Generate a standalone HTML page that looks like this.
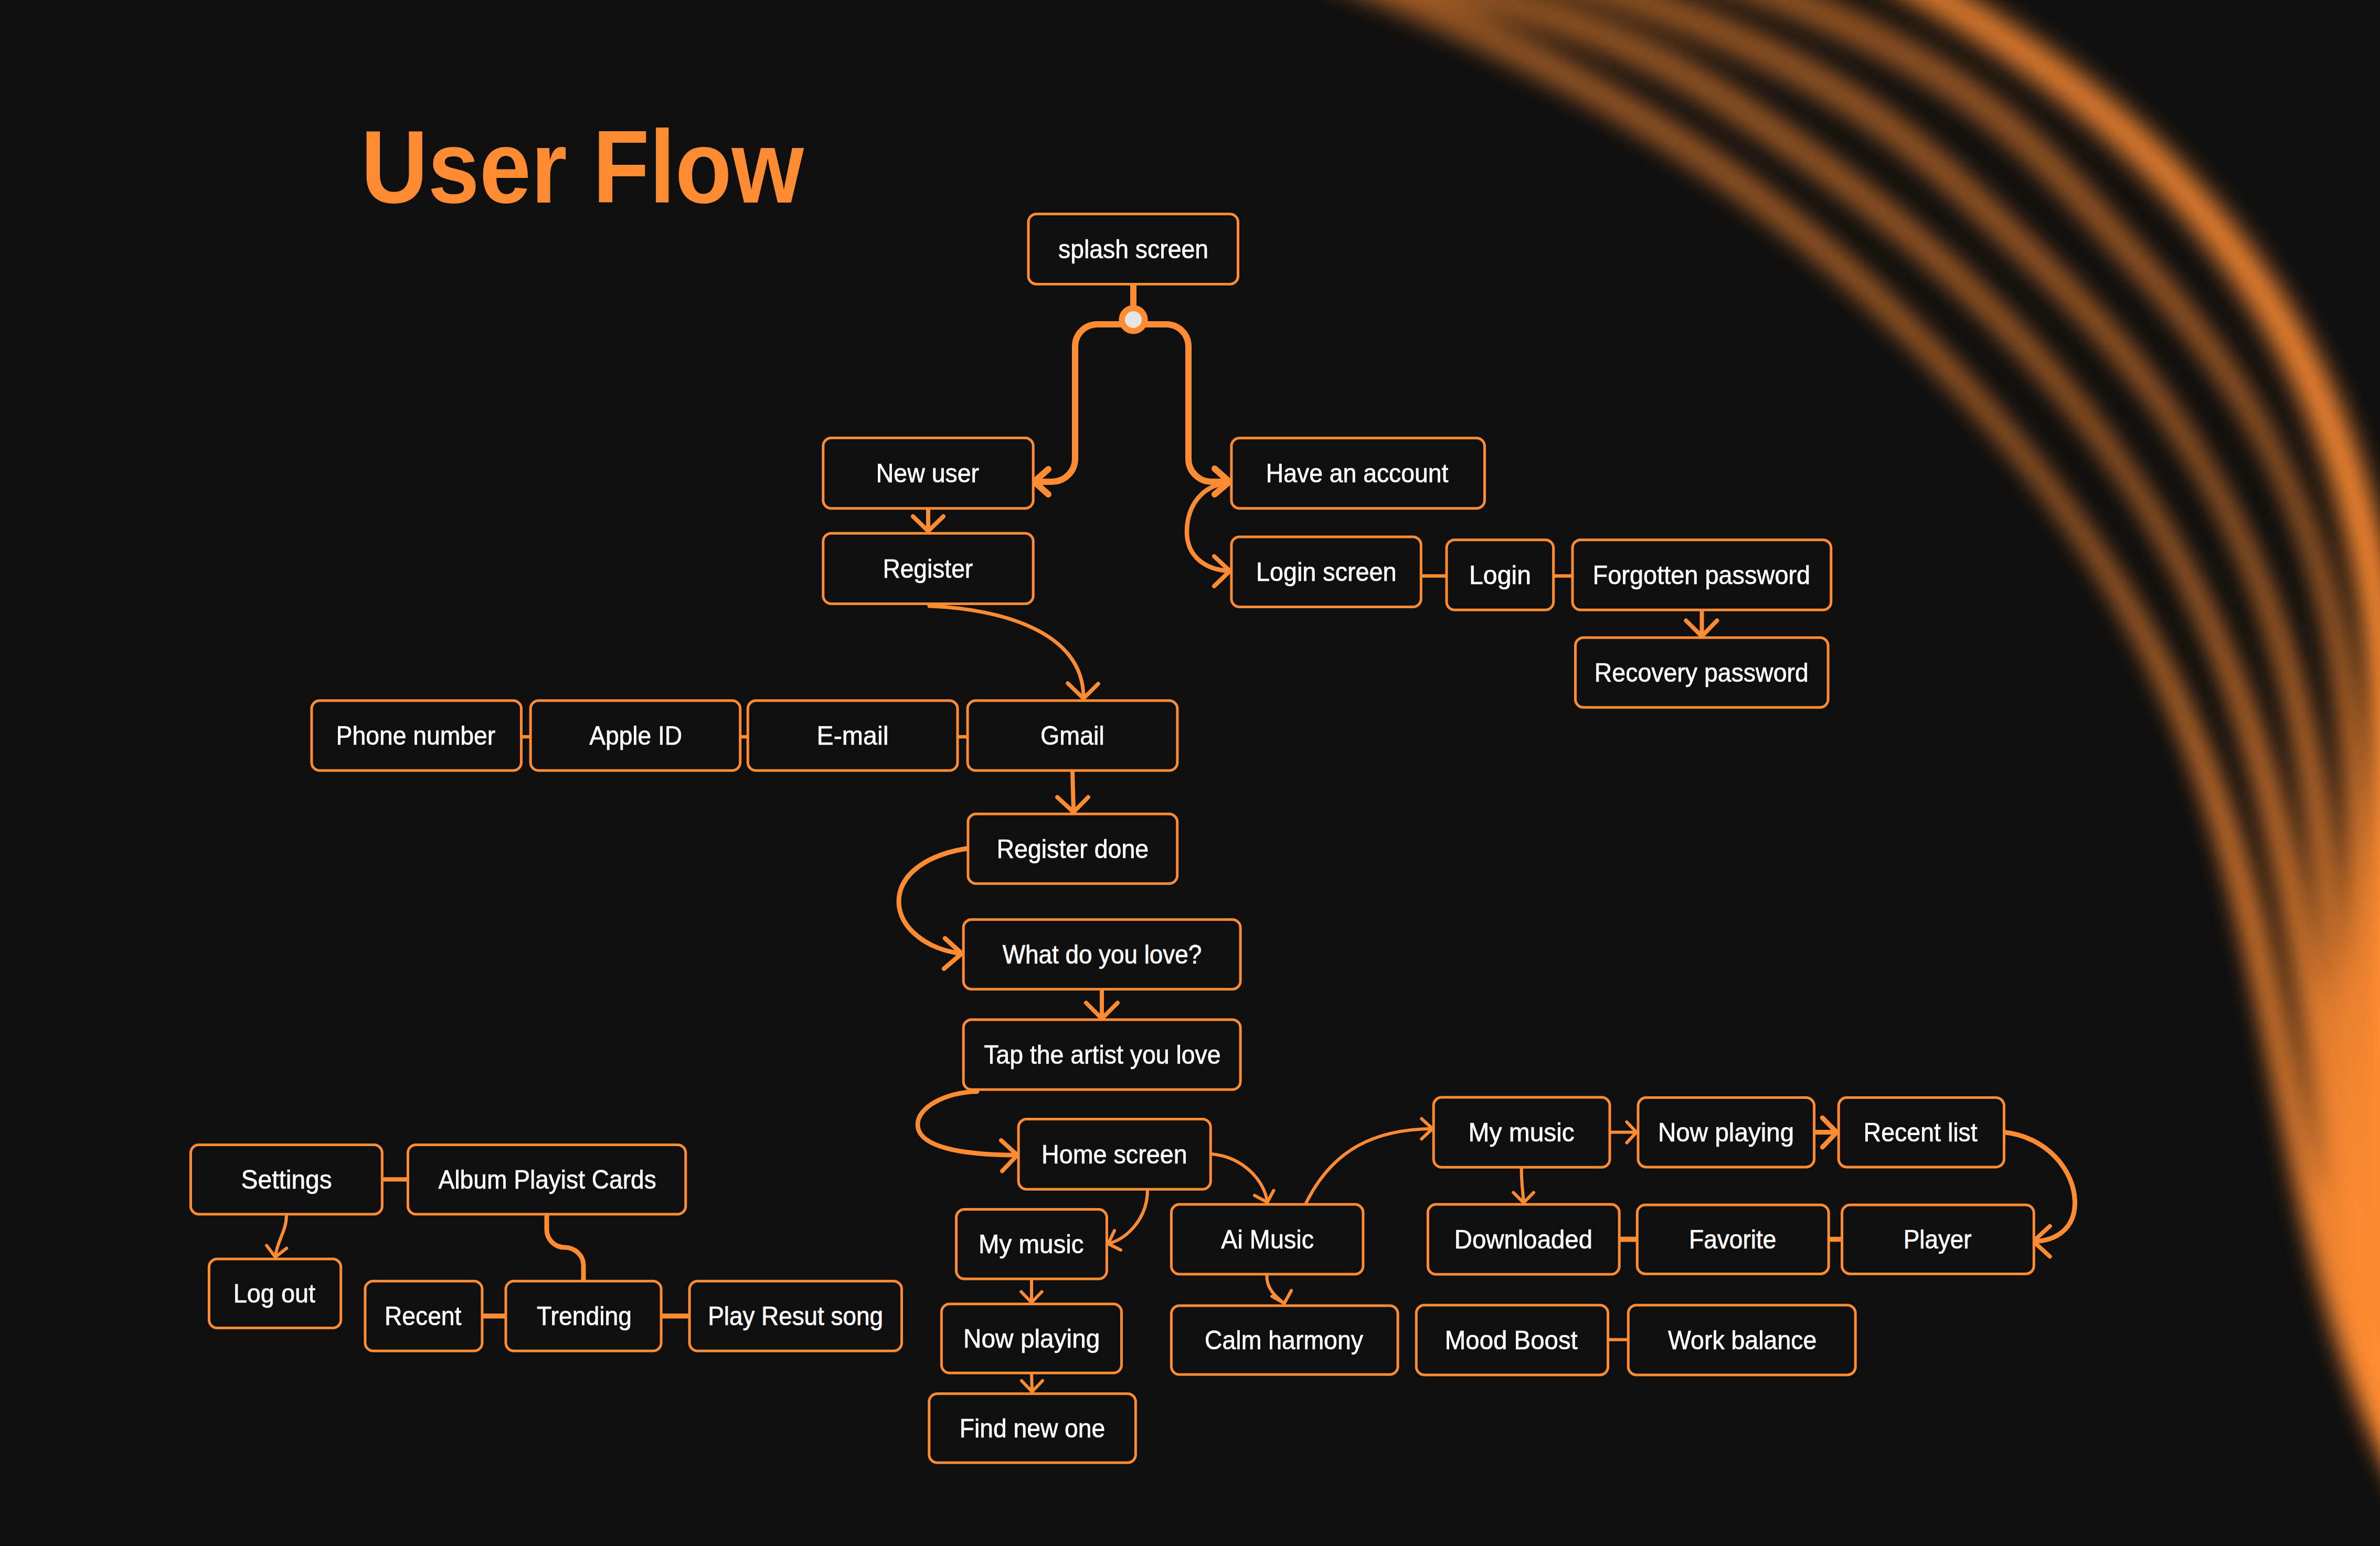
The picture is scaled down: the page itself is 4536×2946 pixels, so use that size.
<!DOCTYPE html>
<html><head><meta charset="utf-8"><style>
html,body{margin:0;padding:0;background:#0F0F0F;}
body{width:4536px;height:2946px;overflow:hidden;position:relative;font-family:"Liberation Sans",sans-serif;}
svg{position:absolute;left:0;top:0;}
</style></head><body>
<svg width="4536" height="2946" viewBox="0 0 4536 2946">
<defs>
<filter id="gb1" x="-10%" y="-10%" width="120%" height="120%"><feGaussianBlur stdDeviation="22"/></filter>
<filter id="gb2" x="-10%" y="-10%" width="120%" height="120%"><feGaussianBlur stdDeviation="24"/></filter>
<linearGradient id="lg1" gradientUnits="userSpaceOnUse" x1="0" y1="0" x2="0" y2="3000"><stop offset="0.000" stop-color="#FF8C33" stop-opacity="0.53"/><stop offset="0.300" stop-color="#FF8C33" stop-opacity="0.66"/><stop offset="0.567" stop-color="#FF8C33" stop-opacity="0.84"/><stop offset="0.767" stop-color="#FF8C33" stop-opacity="0.92"/><stop offset="1.000" stop-color="#FF8C33" stop-opacity="0.92"/></linearGradient>
<linearGradient id="lg2" gradientUnits="userSpaceOnUse" x1="0" y1="0" x2="0" y2="1100"><stop offset="0.000" stop-color="#FF8C33" stop-opacity="0.88"/><stop offset="1.000" stop-color="#FF8C33" stop-opacity="1.0"/></linearGradient>
</defs>
<g filter="url(#gb1)" fill="url(#lg1)" stroke="none">
<path d="M2293.7,-117.2 L2358.4,-94.4 L2420.9,-71.7 L2481.3,-48.9 L2539.8,-26.1 L2596.3,-3.4 L2651.0,19.3 L2703.9,42.1 L2755.0,64.8 L2804.4,87.5 L2852.1,110.3 L2898.3,133.0 L2942.8,155.7 L2985.9,178.4 L3027.4,201.1 L3067.6,223.8 L3106.5,246.5 L3144.0,269.2 L3180.3,291.9 L3215.4,314.6 L3249.4,337.2 L3282.3,359.9 L3314.2,382.6 L3345.0,405.3 L3375.0,428.1 L3404.1,450.8 L3432.4,473.5 L3459.9,496.2 L3486.7,519.0 L3512.8,541.7 L3538.3,564.5 L3563.3,587.3 L3587.8,610.1 L3611.8,632.9 L3635.4,655.7 L3658.5,678.6 L3681.1,701.4 L3703.3,724.2 L3725.1,747.0 L3746.4,769.9 L3767.3,792.7 L3787.7,815.5 L3807.7,838.3 L3827.2,861.2 L3846.3,884.0 L3864.9,906.9 L3882.9,929.9 L3900.4,952.9 L3917.4,976.0 L3934.0,999.1 L3950.1,1022.1 L3965.8,1045.2 L3981.1,1068.2 L3995.8,1091.3 L4010.2,1114.4 L4024.1,1137.5 L4037.6,1160.7 L4050.6,1183.8 L4063.3,1206.9 L4075.5,1230.0 L4087.4,1253.1 L4098.8,1276.3 L4109.9,1299.4 L4120.6,1322.5 L4131.0,1345.6 L4140.9,1368.7 L4150.5,1391.8 L4159.8,1414.9 L4168.8,1438.0 L4177.4,1461.1 L4185.7,1484.2 L4193.7,1507.3 L4201.5,1530.4 L4209.0,1553.5 L4216.2,1576.6 L4223.2,1599.6 L4230.0,1622.7 L4236.5,1645.8 L4242.9,1668.9 L4249.1,1692.0 L4255.1,1715.1 L4261.0,1738.2 L4266.7,1761.3 L4272.3,1784.4 L4277.8,1807.5 L4283.2,1830.6 L4288.5,1853.8 L4293.6,1876.9 L4298.7,1900.0 L4303.7,1923.2 L4308.6,1946.4 L4313.5,1969.6 L4318.3,1992.8 L4323.1,2016.0 L4327.8,2039.2 L4332.6,2062.4 L4337.4,2085.7 L4342.1,2108.9 L4346.9,2132.2 L4351.8,2155.5 L4356.7,2178.8 L4361.6,2202.1 L4366.7,2225.4 L4371.8,2248.7 L4377.0,2272.1 L4382.4,2295.4 L4387.8,2318.8 L4393.4,2342.1 L4399.2,2365.5 L4405.1,2388.9 L4411.2,2412.3 L4417.4,2435.7 L4423.9,2459.2 L4430.6,2482.6 L4437.5,2506.0 L4444.6,2529.5 L4452.0,2553.0 L4459.7,2576.4 L4467.6,2599.9 L4475.8,2623.4 L4484.3,2646.9 L4493.1,2670.4 L4502.2,2693.9 L4511.7,2717.4 L4521.5,2740.9 L4531.7,2764.5 L4542.2,2788.0 L4553.1,2811.5 L4564.4,2835.1 L4576.1,2858.6 L4588.3,2882.2 L4600.8,2905.7 L4613.9,2929.2 L4627.3,2952.8 L4641.3,2976.3 L4655.7,2999.9 L4670.6,3023.4 L4686.0,3047.0 L4701.9,3070.5 L4718.2,3093.9 L4758.1,3066.1 L4741.9,3043.0 L4726.4,3020.1 L4711.4,2997.1 L4696.9,2974.2 L4682.9,2951.3 L4669.3,2928.4 L4656.2,2905.4 L4643.6,2882.5 L4631.3,2859.6 L4619.5,2836.6 L4608.1,2813.7 L4597.1,2790.8 L4586.4,2767.8 L4576.1,2744.9 L4566.2,2721.9 L4556.6,2699.0 L4547.4,2676.0 L4538.5,2653.1 L4529.9,2630.1 L4521.6,2607.1 L4513.5,2584.1 L4505.8,2561.1 L4498.3,2538.1 L4491.0,2515.1 L4484.0,2492.1 L4477.3,2469.1 L4470.7,2446.0 L4464.3,2423.0 L4458.1,2399.9 L4452.2,2376.8 L4446.3,2353.8 L4440.6,2330.7 L4435.1,2307.6 L4429.7,2284.5 L4424.4,2261.3 L4419.2,2238.2 L4414.2,2215.0 L4409.2,2191.9 L4404.2,2168.7 L4399.4,2145.5 L4394.5,2122.3 L4389.7,2099.1 L4385.0,2075.9 L4380.2,2052.7 L4375.5,2029.4 L4370.7,2006.2 L4365.9,1982.9 L4361.1,1959.6 L4356.2,1936.4 L4351.2,1913.0 L4346.2,1889.7 L4341.1,1866.4 L4335.9,1843.1 L4330.6,1819.7 L4325.1,1796.4 L4319.6,1773.0 L4313.8,1749.6 L4307.8,1726.3 L4301.7,1702.9 L4295.3,1679.5 L4288.8,1656.1 L4282.0,1632.7 L4274.9,1609.4 L4267.6,1586.0 L4260.1,1562.6 L4252.3,1539.2 L4244.2,1515.8 L4235.8,1492.4 L4227.1,1469.0 L4218.1,1445.7 L4208.8,1422.3 L4199.2,1398.9 L4189.2,1375.5 L4178.8,1352.2 L4168.2,1328.8 L4157.1,1305.4 L4145.7,1282.1 L4134.0,1258.7 L4121.9,1235.4 L4109.4,1212.0 L4096.5,1188.6 L4083.3,1165.3 L4069.7,1141.9 L4055.7,1118.6 L4041.3,1095.2 L4026.5,1071.8 L4011.3,1048.4 L3995.8,1025.0 L3979.8,1001.6 L3963.3,978.2 L3946.5,954.8 L3929.2,931.4 L3911.5,908.0 L3893.3,884.5 L3875.0,860.9 L3856.2,837.2 L3837.0,813.6 L3817.3,790.0 L3797.2,766.3 L3776.6,742.7 L3755.5,719.0 L3734.0,695.4 L3712.0,671.7 L3689.6,648.1 L3666.7,624.4 L3643.4,600.8 L3619.6,577.1 L3595.3,553.4 L3570.4,529.7 L3545.0,506.0 L3518.9,482.3 L3492.1,458.6 L3464.5,434.9 L3436.2,411.1 L3407.0,387.3 L3376.9,363.6 L3345.8,339.8 L3313.7,316.0 L3280.6,292.2 L3246.3,268.5 L3210.9,244.7 L3174.3,220.9 L3136.4,197.1 L3097.2,173.3 L3056.6,149.6 L3014.6,125.8 L2971.1,102.0 L2926.2,78.3 L2879.6,54.5 L2831.5,30.7 L2781.6,7.0 L2730.1,-16.8 L2676.8,-40.5 L2621.7,-64.2 L2564.7,-88.0 L2505.7,-111.7 L2444.9,-135.4 L2382.0,-159.1 L2317.2,-182.8 Z"/>
<path d="M2133.8,-115.6 L2279.5,-92.8 L2411.2,-70.0 L2530.0,-47.3 L2636.9,-24.6 L2732.7,-1.9 L2818.4,20.8 L2894.9,43.4 L2963.1,65.9 L3023.9,88.4 L3078.2,110.8 L3127.0,133.2 L3171.4,155.6 L3212.1,178.0 L3250.3,200.5 L3286.8,223.2 L3322.3,245.9 L3357.0,268.6 L3390.8,291.4 L3423.7,314.1 L3455.8,336.8 L3487.0,359.6 L3517.4,382.3 L3547.0,405.0 L3575.9,427.8 L3604.0,450.5 L3631.4,473.2 L3658.0,496.0 L3684.0,518.7 L3709.3,541.5 L3733.9,564.2 L3757.8,586.9 L3781.2,609.7 L3803.9,632.5 L3826.0,655.2 L3847.6,678.0 L3868.6,700.8 L3889.0,723.5 L3908.8,746.3 L3928.1,769.1 L3946.9,791.9 L3965.1,814.6 L3982.8,837.4 L4000.0,860.2 L4016.7,883.0 L4032.9,905.8 L4048.4,928.8 L4063.4,951.9 L4077.9,974.9 L4091.9,997.9 L4105.4,1020.9 L4118.5,1043.9 L4131.2,1067.0 L4143.4,1090.0 L4155.2,1113.1 L4166.5,1136.2 L4177.5,1159.2 L4188.0,1182.3 L4198.2,1205.4 L4207.9,1228.5 L4217.4,1251.6 L4226.4,1274.7 L4235.1,1297.8 L4243.5,1320.9 L4251.5,1344.0 L4259.3,1367.1 L4266.7,1390.2 L4273.9,1413.3 L4280.8,1436.4 L4287.4,1459.5 L4293.7,1482.6 L4299.8,1505.7 L4305.7,1528.8 L4311.4,1551.9 L4316.8,1575.0 L4322.1,1598.1 L4327.1,1621.2 L4332.0,1644.3 L4336.7,1667.4 L4341.3,1690.5 L4345.7,1713.6 L4350.0,1736.7 L4354.2,1759.8 L4358.2,1782.9 L4362.2,1806.0 L4366.0,1829.1 L4369.7,1852.2 L4373.4,1875.4 L4376.9,1898.5 L4380.3,1921.7 L4383.7,1944.8 L4387.0,1968.0 L4390.2,1991.2 L4393.4,2014.4 L4396.6,2037.6 L4399.7,2060.8 L4402.8,2084.0 L4405.9,2107.2 L4409.0,2130.5 L4412.1,2153.7 L4415.2,2177.0 L4418.4,2200.2 L4421.5,2223.5 L4424.8,2246.8 L4428.1,2270.1 L4431.4,2293.5 L4434.9,2316.8 L4438.6,2340.2 L4442.3,2363.6 L4446.3,2387.0 L4450.4,2410.4 L4454.7,2433.9 L4459.3,2457.3 L4464.1,2480.8 L4469.2,2504.3 L4474.5,2527.8 L4480.2,2551.4 L4486.1,2574.9 L4492.4,2598.5 L4499.1,2622.0 L4506.2,2645.6 L4513.6,2669.2 L4521.5,2692.8 L4529.7,2716.4 L4538.5,2740.1 L4547.7,2763.7 L4557.4,2787.4 L4567.7,2811.0 L4578.4,2834.7 L4589.7,2858.3 L4601.6,2882.0 L4614.1,2905.6 L4627.1,2929.3 L4640.8,2953.0 L4655.1,2976.6 L4670.1,3000.3 L4685.8,3023.9 L4702.2,3047.6 L4719.2,3071.2 L4736.9,3094.6 L4775.7,3065.4 L4758.3,3042.3 L4741.8,3019.5 L4726.0,2996.7 L4710.9,2973.8 L4696.5,2951.0 L4682.6,2928.2 L4669.4,2905.4 L4656.8,2882.6 L4644.8,2859.8 L4633.4,2836.9 L4622.5,2814.1 L4612.1,2791.3 L4602.2,2768.5 L4592.8,2745.6 L4583.9,2722.8 L4575.5,2700.0 L4567.4,2677.1 L4559.8,2654.2 L4552.6,2631.4 L4545.8,2608.5 L4539.3,2585.6 L4533.2,2562.6 L4527.3,2539.7 L4521.8,2516.8 L4516.6,2493.8 L4511.7,2470.8 L4507.0,2447.8 L4502.5,2424.8 L4498.2,2401.8 L4494.2,2378.8 L4490.3,2355.7 L4486.6,2332.6 L4483.0,2309.5 L4479.5,2286.4 L4476.2,2263.2 L4472.9,2240.1 L4469.7,2216.9 L4466.5,2193.7 L4463.4,2170.5 L4460.3,2147.3 L4457.2,2124.1 L4454.1,2100.8 L4451.0,2077.6 L4447.9,2054.3 L4444.8,2031.1 L4441.6,2007.8 L4438.4,1984.5 L4435.1,1961.2 L4431.8,1937.9 L4428.4,1914.6 L4424.9,1891.3 L4421.4,1867.9 L4417.7,1844.6 L4414.0,1821.3 L4410.1,1797.9 L4406.1,1774.5 L4401.9,1751.2 L4397.5,1727.8 L4393.0,1704.4 L4388.3,1681.1 L4383.4,1657.7 L4378.2,1634.3 L4372.9,1610.9 L4367.4,1587.5 L4361.6,1564.2 L4355.6,1540.8 L4349.4,1517.4 L4342.9,1494.0 L4336.2,1470.6 L4329.2,1447.3 L4321.9,1423.9 L4314.4,1400.5 L4306.5,1377.1 L4298.4,1353.8 L4290.0,1330.4 L4281.3,1307.0 L4272.3,1283.6 L4262.9,1260.3 L4253.3,1236.9 L4243.2,1213.5 L4232.9,1190.1 L4222.2,1166.7 L4211.1,1143.3 L4199.6,1119.9 L4187.8,1096.5 L4175.6,1073.1 L4163.0,1049.7 L4150.0,1026.3 L4136.6,1002.8 L4122.7,979.4 L4108.5,955.9 L4093.7,932.5 L4078.5,909.0 L4062.8,885.5 L4046.9,861.9 L4030.5,838.2 L4013.6,814.5 L3996.1,790.8 L3978.1,767.1 L3959.6,743.4 L3940.5,719.7 L3920.8,696.0 L3900.6,672.3 L3879.8,648.6 L3858.4,624.9 L3836.4,601.2 L3813.7,577.5 L3790.5,553.8 L3766.6,530.0 L3742.0,506.3 L3716.8,482.6 L3690.8,458.9 L3664.2,435.1 L3636.8,411.4 L3608.6,387.6 L3579.7,363.9 L3550.0,340.2 L3519.5,316.4 L3488.1,292.7 L3455.9,268.9 L3422.9,245.2 L3388.9,221.5 L3354.1,197.7 L3318.4,174.0 L3281.3,150.1 L3242.2,126.2 L3200.1,102.1 L3154.0,78.0 L3103.3,53.9 L3047.1,29.9 L2984.4,5.9 L2914.4,-18.0 L2836.2,-41.9 L2749.0,-65.7 L2651.7,-89.5 L2543.5,-113.3 L2423.6,-137.0 L2290.8,-160.7 L2144.7,-184.4 Z"/>
<path d="M2603.5,-116.2 L2697.2,-93.4 L2785.1,-70.7 L2867.5,-47.9 L2944.8,-25.2 L3017.2,-2.5 L3084.8,20.1 L3148.0,42.8 L3206.9,65.4 L3261.9,88.0 L3313.1,110.6 L3360.8,133.1 L3405.3,155.6 L3446.7,178.1 L3485.4,200.6 L3521.5,223.0 L3555.4,245.5 L3587.2,267.9 L3617.3,290.4 L3645.8,312.9 L3673.0,335.5 L3699.2,358.1 L3724.6,380.8 L3749.4,403.5 L3773.9,426.4 L3798.2,449.3 L3822.4,472.2 L3846.4,495.1 L3870.1,518.0 L3893.5,540.8 L3916.4,563.6 L3938.7,586.4 L3960.5,609.1 L3981.6,631.8 L4002.0,654.6 L4021.8,677.3 L4041.0,700.0 L4059.5,722.7 L4077.4,745.5 L4094.7,768.2 L4111.4,790.9 L4127.6,813.7 L4143.1,836.5 L4158.1,859.2 L4172.6,882.0 L4186.6,904.8 L4199.7,927.7 L4212.3,950.7 L4224.4,973.6 L4236.0,996.6 L4247.1,1019.6 L4257.8,1042.6 L4267.9,1065.6 L4277.6,1088.6 L4286.9,1111.6 L4295.7,1134.6 L4304.1,1157.6 L4312.0,1180.7 L4319.6,1203.7 L4326.8,1226.7 L4333.6,1249.8 L4340.0,1272.8 L4346.1,1295.9 L4351.9,1318.9 L4357.4,1342.0 L4362.5,1365.1 L4367.4,1388.1 L4372.0,1411.2 L4376.3,1434.2 L4380.4,1457.3 L4384.2,1480.4 L4387.9,1503.5 L4391.3,1526.5 L4394.5,1549.6 L4397.5,1572.7 L4400.4,1595.8 L4403.1,1618.9 L4405.7,1642.0 L4408.2,1665.1 L4410.5,1688.3 L4412.8,1711.4 L4414.9,1734.5 L4417.0,1757.7 L4419.0,1780.8 L4421.0,1804.0 L4422.9,1827.1 L4424.7,1850.3 L4426.5,1873.5 L4428.2,1896.7 L4430.0,1919.9 L4431.7,1943.2 L4433.4,1966.4 L4435.1,1989.6 L4436.9,2012.9 L4438.6,2036.2 L4440.4,2059.5 L4442.3,2082.7 L4444.2,2106.1 L4446.2,2129.4 L4448.2,2152.7 L4450.4,2176.0 L4452.7,2199.4 L4455.1,2222.8 L4457.6,2246.1 L4460.2,2269.5 L4463.0,2292.9 L4466.0,2316.3 L4469.2,2339.7 L4472.5,2363.2 L4476.0,2386.6 L4479.7,2410.0 L4483.7,2433.5 L4487.8,2457.0 L4492.3,2480.4 L4496.9,2503.9 L4501.9,2527.4 L4507.1,2550.9 L4512.5,2574.4 L4518.3,2598.0 L4524.4,2621.5 L4530.8,2645.0 L4537.6,2668.6 L4544.7,2692.1 L4552.1,2715.7 L4559.9,2739.2 L4568.1,2762.8 L4576.6,2786.4 L4585.6,2810.0 L4595.0,2833.5 L4604.7,2857.1 L4614.9,2880.7 L4625.6,2904.3 L4636.7,2927.9 L4648.3,2951.5 L4660.3,2975.0 L4672.9,2998.6 L4685.9,3022.2 L4699.4,3045.8 L4713.5,3069.4 L4727.9,3092.8 L4769.3,3067.2 L4755.0,3044.2 L4741.4,3021.3 L4728.2,2998.4 L4715.6,2975.5 L4703.4,2952.6 L4691.7,2929.7 L4680.5,2906.8 L4669.7,2883.9 L4659.4,2861.0 L4649.5,2838.1 L4640.0,2815.2 L4630.9,2792.3 L4622.2,2769.5 L4613.9,2746.5 L4605.9,2723.6 L4598.3,2700.7 L4591.1,2677.8 L4584.2,2654.9 L4577.6,2632.0 L4571.4,2609.0 L4565.5,2586.1 L4559.8,2563.1 L4554.4,2540.2 L4549.4,2517.2 L4544.5,2494.2 L4540.0,2471.2 L4535.7,2448.2 L4531.6,2425.2 L4527.7,2402.2 L4524.0,2379.2 L4520.6,2356.1 L4517.3,2333.1 L4514.2,2310.0 L4511.3,2287.0 L4508.5,2263.9 L4505.9,2240.8 L4503.4,2217.7 L4501.0,2194.6 L4498.8,2171.4 L4496.6,2148.3 L4494.6,2125.2 L4492.6,2102.0 L4490.7,2078.8 L4488.9,2055.7 L4487.1,2032.5 L4485.3,2009.3 L4483.6,1986.0 L4481.9,1962.8 L4480.2,1939.6 L4478.4,1916.3 L4476.7,1893.1 L4475.0,1869.8 L4473.1,1846.5 L4471.3,1823.2 L4469.4,1799.9 L4467.4,1776.6 L4465.3,1753.3 L4463.0,1729.9 L4460.7,1706.6 L4458.2,1683.3 L4455.5,1659.9 L4452.7,1636.5 L4449.7,1613.2 L4446.5,1589.8 L4443.2,1566.4 L4439.6,1543.0 L4435.9,1519.6 L4431.9,1496.3 L4427.7,1472.9 L4423.2,1449.4 L4418.5,1426.0 L4413.6,1402.6 L4408.4,1379.2 L4402.8,1355.8 L4397.1,1332.4 L4391.0,1309.0 L4384.5,1285.5 L4377.8,1262.1 L4370.8,1238.7 L4363.4,1215.3 L4355.6,1191.8 L4347.5,1168.4 L4339.0,1145.0 L4330.1,1121.5 L4320.9,1098.1 L4311.2,1074.6 L4301.1,1051.1 L4290.6,1027.6 L4279.7,1004.2 L4268.3,980.6 L4256.4,957.1 L4244.0,933.6 L4231.1,910.1 L4217.8,886.6 L4204.2,862.9 L4190.0,839.2 L4175.3,815.5 L4159.9,791.8 L4144.0,768.0 L4127.5,744.3 L4110.4,720.6 L4092.7,696.8 L4074.3,673.1 L4055.3,649.3 L4035.6,625.6 L4015.2,601.8 L3994.2,578.1 L3972.5,554.4 L3950.3,530.7 L3927.6,507.0 L3904.5,483.3 L3881.1,459.7 L3857.4,436.1 L3833.6,412.6 L3809.7,389.0 L3785.5,365.4 L3760.8,341.7 L3735.3,317.9 L3708.8,294.0 L3681.1,270.1 L3652.0,246.2 L3621.1,222.2 L3588.4,198.1 L3553.5,174.1 L3516.3,150.1 L3476.5,126.1 L3433.8,102.1 L3388.2,78.1 L3339.3,54.2 L3286.9,30.3 L3230.8,6.4 L3170.7,-17.5 L3106.4,-41.3 L3037.8,-65.1 L2964.5,-88.9 L2886.3,-112.6 L2802.9,-136.4 L2714.3,-160.1 L2620.2,-183.8 Z"/>
<path d="M2945.3,-116.5 L3029.4,-93.6 L3108.0,-70.9 L3181.6,-48.2 L3250.4,-25.6 L3314.7,-2.9 L3374.7,19.7 L3430.6,42.3 L3482.6,64.8 L3531.0,87.4 L3576.0,109.9 L3617.7,132.3 L3656.5,154.7 L3692.6,177.1 L3726.2,199.5 L3757.5,221.9 L3786.8,244.3 L3814.2,266.7 L3840.1,289.1 L3864.7,311.5 L3888.2,334.1 L3910.7,356.7 L3932.6,379.4 L3954.1,402.2 L3975.3,425.0 L3996.5,448.0 L4017.6,471.0 L4038.7,493.9 L4059.4,516.8 L4079.9,539.6 L4100.0,562.4 L4119.6,585.2 L4138.7,607.9 L4157.2,630.7 L4175.0,653.4 L4192.2,676.1 L4208.7,698.8 L4224.7,721.5 L4240.1,744.2 L4254.8,766.9 L4269.0,789.7 L4282.6,812.4 L4295.6,835.1 L4308.1,857.8 L4320.0,880.6 L4331.3,903.4 L4341.9,926.3 L4351.9,949.2 L4361.3,972.1 L4370.3,995.0 L4378.8,1018.0 L4386.8,1040.9 L4394.4,1063.9 L4401.4,1086.9 L4408.1,1109.8 L4414.3,1132.8 L4420.0,1155.8 L4425.4,1178.8 L4430.4,1201.8 L4435.0,1224.8 L4439.3,1247.8 L4443.3,1270.9 L4446.9,1293.9 L4450.2,1316.9 L4453.2,1340.0 L4455.9,1363.0 L4458.4,1386.0 L4460.6,1409.1 L4462.6,1432.2 L4464.4,1455.2 L4466.0,1478.3 L4467.4,1501.4 L4468.6,1524.5 L4469.7,1547.6 L4470.6,1570.7 L4471.4,1593.8 L4472.1,1616.9 L4472.8,1640.0 L4473.3,1663.2 L4473.8,1686.3 L4474.2,1709.5 L4474.5,1732.7 L4474.9,1755.9 L4475.2,1779.1 L4475.5,1802.3 L4475.8,1825.5 L4476.0,1848.7 L4476.3,1871.9 L4476.5,1895.2 L4476.8,1918.4 L4477.1,1941.7 L4477.4,1965.0 L4477.8,1988.3 L4478.2,2011.6 L4478.7,2034.9 L4479.3,2058.2 L4479.9,2081.5 L4480.7,2104.9 L4481.5,2128.2 L4482.5,2151.6 L4483.6,2174.9 L4484.8,2198.3 L4486.2,2221.7 L4487.7,2245.1 L4489.4,2268.5 L4491.3,2292.0 L4493.4,2315.4 L4495.7,2338.9 L4498.1,2362.3 L4500.9,2385.8 L4503.8,2409.3 L4507.0,2432.7 L4510.4,2456.2 L4514.1,2479.7 L4518.1,2503.2 L4522.3,2526.8 L4526.9,2550.3 L4531.7,2573.8 L4536.9,2597.4 L4542.4,2620.9 L4548.2,2644.5 L4554.4,2668.1 L4560.9,2691.6 L4567.8,2715.2 L4575.1,2738.8 L4582.8,2762.4 L4590.9,2786.0 L4599.4,2809.6 L4608.3,2833.2 L4617.6,2856.8 L4627.4,2880.4 L4637.7,2904.0 L4648.4,2927.6 L4659.5,2951.2 L4671.2,2974.8 L4683.3,2998.4 L4696.0,3021.9 L4709.1,3045.5 L4722.8,3069.1 L4736.9,3092.5 L4778.5,3067.5 L4764.6,3044.4 L4751.4,3021.5 L4738.6,2998.6 L4726.3,2975.7 L4714.6,2952.9 L4703.3,2930.0 L4692.5,2907.1 L4682.1,2884.2 L4672.2,2861.4 L4662.7,2838.5 L4653.6,2815.6 L4645.0,2792.7 L4636.8,2769.9 L4628.9,2747.0 L4621.5,2724.1 L4614.4,2701.2 L4607.7,2678.3 L4601.3,2655.4 L4595.3,2632.5 L4589.6,2609.6 L4584.3,2586.6 L4579.2,2563.7 L4574.5,2540.8 L4570.1,2517.8 L4565.9,2494.9 L4562.1,2471.9 L4558.4,2448.9 L4555.1,2426.0 L4552.0,2403.0 L4549.1,2380.0 L4546.5,2357.0 L4544.0,2334.0 L4541.8,2310.9 L4539.7,2287.9 L4537.9,2264.8 L4536.2,2241.8 L4534.7,2218.7 L4533.3,2195.6 L4532.1,2172.5 L4531.1,2149.4 L4530.1,2126.3 L4529.3,2103.2 L4528.5,2080.1 L4527.9,2056.9 L4527.3,2033.8 L4526.8,2010.6 L4526.4,1987.4 L4526.0,1964.2 L4525.7,1941.0 L4525.4,1917.8 L4525.1,1894.6 L4524.9,1871.4 L4524.6,1848.1 L4524.4,1824.9 L4524.1,1801.6 L4523.7,1778.4 L4523.3,1755.1 L4522.9,1731.8 L4522.3,1708.5 L4521.6,1685.2 L4520.9,1661.8 L4520.0,1638.5 L4519.0,1615.2 L4517.9,1591.8 L4516.6,1568.5 L4515.2,1545.1 L4513.6,1521.7 L4511.9,1498.3 L4509.9,1474.9 L4507.8,1451.5 L4505.4,1428.1 L4502.8,1404.7 L4500.0,1381.3 L4497.0,1357.9 L4493.6,1334.4 L4490.0,1311.0 L4486.1,1287.6 L4481.9,1264.1 L4477.5,1240.6 L4472.6,1217.2 L4467.5,1193.7 L4462.0,1170.3 L4456.1,1146.8 L4449.9,1123.3 L4443.3,1099.8 L4436.2,1076.3 L4428.8,1052.8 L4421.0,1029.3 L4412.7,1005.8 L4404.0,982.2 L4394.7,958.7 L4385.0,935.1 L4374.8,911.6 L4364.1,888.0 L4353.1,864.3 L4341.5,840.6 L4329.4,816.8 L4316.7,793.1 L4303.3,769.3 L4289.4,745.6 L4274.8,721.8 L4259.7,698.1 L4243.9,674.3 L4227.5,650.5 L4210.4,626.8 L4192.7,603.0 L4174.4,579.2 L4155.5,555.5 L4136.1,531.8 L4116.2,508.2 L4096.0,484.5 L4075.6,460.9 L4055.1,437.4 L4034.4,413.9 L4013.7,390.4 L3992.9,366.8 L3971.6,343.1 L3949.7,319.3 L3926.9,295.4 L3903.1,271.5 L3878.0,247.5 L3851.3,223.4 L3823.0,199.3 L3792.7,175.2 L3760.2,151.1 L3725.5,127.0 L3688.1,103.0 L3648.1,78.9 L3605.0,54.9 L3558.7,30.9 L3509.1,7.0 L3455.8,-17.0 L3398.8,-40.8 L3337.6,-64.7 L3272.2,-88.5 L3202.3,-112.3 L3127.7,-136.1 L3048.2,-159.9 L2963.8,-183.5 Z"/>
</g>
<g filter="url(#gb2)" fill="url(#lg2)" stroke="none">
<path d="M3400.1,-121.1 L3448.9,-97.9 L3495.8,-74.9 L3541.0,-51.9 L3584.5,-28.9 L3626.4,-5.9 L3666.8,17.1 L3705.6,40.1 L3742.9,63.0 L3778.8,85.9 L3813.3,108.9 L3846.4,131.8 L3878.2,154.7 L3908.8,177.5 L3938.2,200.4 L3966.3,223.2 L3993.3,246.0 L4019.3,268.9 L4044.2,291.7 L4068.1,314.4 L4091.0,337.2 L4113.1,360.0 L4134.2,382.8 L4154.6,405.6 L4174.1,428.3 L4193.0,451.1 L4211.1,473.9 L4228.5,496.6 L4245.2,519.4 L4261.3,542.1 L4276.7,564.8 L4291.5,587.5 L4305.7,610.3 L4319.2,633.0 L4332.2,655.7 L4344.6,678.4 L4356.4,701.1 L4367.7,723.8 L4378.5,746.5 L4388.7,769.2 L4398.5,791.9 L4407.8,814.6 L4416.6,837.3 L4425.0,860.0 L4433.0,882.7 L4440.5,905.5 L4447.6,928.2 L4454.2,950.9 L4460.5,973.7 L4466.4,996.4 L4471.9,1019.2 L4477.1,1041.9 L4481.9,1064.7 L4486.4,1087.5 L4490.5,1110.3 L4494.2,1133.1 L4497.6,1156.0 L4500.6,1178.8 L4503.1,1201.7 L4505.4,1224.6 L4507.3,1247.5 L4508.9,1270.4 L4510.1,1293.4 L4511.1,1316.3 L4511.8,1339.2 L4512.3,1362.2 L4512.5,1385.1 L4512.5,1408.1 L4512.3,1431.0 L4512.0,1454.0 L4511.4,1477.0 L4510.7,1499.9 L4509.8,1522.9 L4508.8,1545.9 L4507.8,1569.0 L4506.6,1592.0 L4505.3,1615.0 L4504.0,1638.1 L4502.7,1661.2 L4501.3,1684.3 L4499.9,1707.4 L4498.6,1730.5 L4497.2,1753.7 L4495.9,1776.9 L4494.6,1800.1 L4493.5,1823.3 L4492.4,1846.5 L4491.3,1869.8 L4490.5,1893.1 L4489.7,1916.5 L4488.9,1939.8 L4488.3,1963.2 L4487.7,1986.6 L4487.1,2010.0 L4486.7,2033.5 L4486.4,2057.0 L4486.2,2080.4 L4486.1,2104.0 L4486.1,2127.5 L4486.3,2151.1 L4486.6,2174.6 L4487.1,2198.2 L4487.8,2221.9 L4488.6,2245.5 L4489.7,2269.2 L4491.0,2292.9 L4492.5,2316.6 L4494.2,2340.4 L4496.1,2364.1 L4498.3,2387.9 L4500.8,2411.7 L4503.6,2435.5 L4506.6,2459.4 L4509.9,2483.2 L4513.6,2507.1 L4517.5,2531.0 L4521.8,2554.9 L4526.4,2578.8 L4531.4,2602.8 L4536.8,2626.8 L4542.5,2650.7 L4548.6,2674.7 L4555.1,2698.7 L4562.0,2722.7 L4569.3,2746.7 L4577.0,2770.8 L4585.2,2794.8 L4593.8,2818.8 L4602.9,2842.9 L4612.4,2866.9 L4622.5,2891.0 L4633.0,2915.0 L4644.0,2939.1 L4655.5,2963.1 L4667.6,2987.1 L4680.1,3011.2 L4693.2,3035.2 L4706.9,3059.2 L4721.1,3083.2 L4735.7,3106.9 L4822.9,3053.1 L4808.8,3030.3 L4795.5,3007.8 L4782.7,2985.4 L4770.5,2962.9 L4758.7,2940.5 L4747.5,2918.0 L4736.7,2895.6 L4726.4,2873.2 L4716.6,2850.7 L4707.3,2828.3 L4698.4,2805.9 L4689.9,2783.5 L4681.9,2761.0 L4674.2,2738.6 L4667.0,2716.1 L4660.2,2693.7 L4653.7,2671.2 L4647.6,2648.7 L4641.9,2626.2 L4636.5,2603.7 L4631.5,2581.2 L4626.8,2558.7 L4622.5,2536.2 L4618.4,2513.6 L4614.7,2491.0 L4611.3,2468.4 L4608.1,2445.8 L4605.2,2423.2 L4602.6,2400.5 L4600.3,2377.9 L4598.1,2355.2 L4596.3,2332.5 L4594.6,2309.7 L4593.2,2287.0 L4592.0,2264.2 L4591.0,2241.4 L4590.1,2218.6 L4589.5,2195.7 L4589.0,2172.8 L4588.7,2149.9 L4588.5,2127.0 L4588.5,2104.1 L4588.6,2081.1 L4588.8,2058.2 L4589.1,2035.2 L4589.5,2012.1 L4590.0,1989.1 L4590.6,1966.0 L4591.3,1942.9 L4592.0,1919.8 L4592.8,1896.6 L4593.5,1873.5 L4594.2,1850.3 L4594.8,1827.1 L4595.4,1803.8 L4595.9,1780.6 L4596.2,1757.3 L4596.6,1733.9 L4596.8,1710.6 L4596.9,1687.2 L4596.9,1663.9 L4596.8,1640.5 L4596.6,1617.1 L4596.3,1593.6 L4595.9,1570.2 L4595.4,1546.7 L4594.7,1523.2 L4593.9,1499.8 L4592.9,1476.3 L4591.8,1452.8 L4590.5,1429.3 L4589.1,1405.8 L4587.5,1382.2 L4585.8,1358.7 L4583.9,1335.2 L4581.7,1311.6 L4579.4,1288.1 L4577.0,1264.5 L4574.3,1241.0 L4571.4,1217.4 L4568.2,1193.8 L4564.9,1170.2 L4561.4,1146.6 L4557.6,1123.0 L4553.6,1099.3 L4549.3,1075.7 L4544.6,1052.0 L4539.6,1028.3 L4534.3,1004.6 L4528.5,980.8 L4522.3,957.1 L4515.8,933.4 L4508.8,909.6 L4501.4,885.9 L4493.5,862.1 L4485.2,838.4 L4476.5,814.6 L4467.2,790.9 L4457.5,767.1 L4447.3,743.3 L4436.5,719.6 L4425.3,695.8 L4413.4,672.0 L4401.0,648.2 L4388.0,624.5 L4374.5,600.7 L4360.3,576.9 L4345.5,553.2 L4330.0,529.4 L4313.9,505.7 L4297.2,481.9 L4279.7,458.2 L4261.5,434.5 L4242.7,410.8 L4223.1,387.1 L4202.7,363.4 L4181.5,339.7 L4159.5,316.0 L4136.6,292.3 L4112.7,268.6 L4087.9,244.9 L4062.0,221.2 L4035.1,197.6 L4007.1,173.9 L3978.0,150.3 L3947.6,126.6 L3916.1,103.0 L3883.3,79.5 L3849.2,55.9 L3813.7,32.3 L3776.9,8.8 L3738.6,-14.7 L3698.9,-38.3 L3657.6,-61.7 L3614.8,-85.2 L3570.4,-108.7 L3524.4,-132.1 L3476.7,-155.6 L3427.5,-178.9 Z"/>
</g>
<text x="688" y="386" textLength="844" lengthAdjust="spacingAndGlyphs" font-family="Liberation Sans" font-weight="bold" font-size="196" fill="#FF8C33">User Flow</text>
<g fill="none" stroke="#FF8C33" stroke-linecap="round" stroke-linejoin="round">
<path d="M2160,544 V600" stroke-width="12"/>
<path d="M1971,918 H2005 A44,44 0 0 0 2049,874 V660 A42,42 0 0 1 2091,618 H2223 A42,42 0 0 1 2265,660 V874 A44,44 0 0 0 2309,918 H2343" stroke-width="12"/>
<path d="M1998,894 L1971,918 L1998,942" stroke-width="12"/>
<path d="M2315,893 L2343,918 L2315,942" stroke-width="12"/>
<path d="M2336,920 C2280,930 2262,975 2262,1014 C2262,1058 2295,1086 2343,1088" stroke-width="8.5"/>
<path d="M2314,1060 L2344,1088 L2314,1117" stroke-width="8"/>
<path d="M1769,971 V1011" stroke-width="8"/>
<path d="M1740,984 L1769,1012 L1798,984" stroke-width="8"/>
<path d="M1771,1155 C1900,1160 2065,1200 2065,1330" stroke-width="7"/>
<path d="M2035,1302 L2065,1331 L2093,1303" stroke-width="7.5"/>
<path d="M996,1404 H1009" stroke-width="6.5"/>
<path d="M1413,1404 H1423" stroke-width="6.5"/>
<path d="M1827,1404 H1842" stroke-width="6.5"/>
<path d="M2044,1471 L2046,1546" stroke-width="8"/>
<path d="M2015,1519 L2046,1547.5 L2074,1519" stroke-width="8"/>
<path d="M1842,1617 C1760,1630 1713,1670 1713,1718 C1713,1770 1770,1810 1832,1817" stroke-width="9"/>
<path d="M1801,1788 L1833,1817 L1799,1846" stroke-width="8.5"/>
<path d="M2100,1887 V1940" stroke-width="8"/>
<path d="M2070,1911 L2100,1941 L2130,1911" stroke-width="8"/>
<path d="M1862,2080 C1800,2082 1749,2110 1749,2143 C1749,2185 1830,2201 1937,2201" stroke-width="8.6"/>
<path d="M1908,2173 L1939,2201 L1910,2231.5" stroke-width="8"/>
<path d="M2187,2268 C2187,2320 2150,2360 2112,2370" stroke-width="6"/>
<path d="M2124,2345 L2112,2370 L2136,2382" stroke-width="6"/>
<path d="M2309.5,2199 C2370,2205 2410,2250 2415.4,2291" stroke-width="6"/>
<path d="M2391,2278 L2415.4,2291 L2427.5,2268.5" stroke-width="6"/>
<path d="M1966,2440 V2481" stroke-width="6"/>
<path d="M1946.3,2461.5 L1966,2482 L1985.6,2461.5" stroke-width="6"/>
<path d="M1966,2619 L1967,2651" stroke-width="6"/>
<path d="M1947,2631 L1967,2652 L1987,2631" stroke-width="6"/>
<path d="M2414.4,2431 C2414,2455 2430,2470 2447.6,2483.7" stroke-width="6"/>
<path d="M2424.2,2470.2 L2447.6,2483.7 L2461.1,2459.2" stroke-width="6"/>
<path d="M2489.4,2292 C2540,2190 2620,2152 2730,2150.7" stroke-width="6"/>
<path d="M2709.3,2131.8 L2730.2,2150.7 L2709.3,2170.4" stroke-width="6"/>
<path d="M3070.5,2157.5 H3118" stroke-width="6"/>
<path d="M3100.4,2138 L3119,2157.5 L3100.4,2177.6" stroke-width="6"/>
<path d="M2899.7,2227 C2899.5,2255 2903,2275 2903.8,2291" stroke-width="6"/>
<path d="M2884.3,2272.4 L2903.8,2292 L2923,2272.4" stroke-width="6"/>
<path d="M3460,2157.6 H3499" stroke-width="9"/>
<path d="M3473.3,2130 L3500.6,2157.6 L3473.3,2186" stroke-width="9"/>
<path d="M3817.2,2157.2 C3900,2165 3955,2230 3954.5,2293 C3954,2340 3920,2365 3876,2365.4" stroke-width="9"/>
<path d="M3906.8,2336.4 L3875.2,2365.4 L3906.8,2394.4" stroke-width="8"/>
<path d="M3088.7,2361.5 H3117.8" stroke-width="10"/>
<path d="M3487.7,2361.4 H3508.1" stroke-width="9.5"/>
<path d="M3067,2552.8 H3101" stroke-width="6"/>
<path d="M731,2247.4 H775" stroke-width="8.4"/>
<path d="M545.8,2317.4 C546,2345 528,2365 524.8,2394.5" stroke-width="6"/>
<path d="M508.1,2373.3 L524.8,2395.4 L546.2,2378.6" stroke-width="6"/>
<path d="M1042,2317 V2343 A34,34 0 0 0 1076,2377 A36,34 0 0 1 1112,2411 V2438" stroke-width="9"/>
<path d="M921,2507.7 H961.5" stroke-width="9.5"/>
<path d="M1262.6,2507.7 H1311.6" stroke-width="9.5"/>
<path d="M2711,1097.5 H2754.5" stroke-width="6.5"/>
<path d="M2963,1097.5 H2994.5" stroke-width="6.5"/>
<path d="M3243.5,1165 V1211" stroke-width="8"/>
<path d="M3213.3,1182.5 L3243.5,1212.4 L3272.4,1182.5" stroke-width="8"/>
<circle cx="2160" cy="609" r="27.6" fill="#FF8C33" stroke="none"/><circle cx="2160" cy="609" r="16" fill="#E5E5E5" stroke="none"/>
</g>
<g fill="#0F0F0F" stroke="#FF8C33" stroke-width="5">
<rect x="1960" y="407.7" width="399.5" height="133.7" rx="15.5"/>
<rect x="1568.8" y="834.5" width="400.4" height="134.3" rx="15.5"/>
<rect x="1568.8" y="1016.2" width="400.4" height="134.3" rx="15.5"/>
<rect x="2346.9" y="834.8" width="482.6" height="134" rx="15.5"/>
<rect x="2346.9" y="1022.9" width="361.4" height="133.7" rx="15.5"/>
<rect x="2757" y="1028.7" width="203.7" height="133.5" rx="15.5"/>
<rect x="2997" y="1028.7" width="492.8" height="133.5" rx="15.5"/>
<rect x="3002.5" y="1214.9" width="481.6" height="133.2" rx="15.5"/>
<rect x="593.9" y="1335" width="399.6" height="133.2" rx="15.5"/>
<rect x="1011.1" y="1335" width="399.6" height="133.2" rx="15.5"/>
<rect x="1425.3" y="1335.1" width="399.7" height="133.1" rx="15.5"/>
<rect x="1844.1" y="1335.1" width="399.8" height="133.1" rx="15.5"/>
<rect x="1844.9" y="1551.1" width="398.8" height="132.7" rx="15.5"/>
<rect x="1836.2" y="1752.3" width="527.9" height="132.6" rx="15.5"/>
<rect x="1836.2" y="1943" width="527.9" height="133.2" rx="15.5"/>
<rect x="1941.1" y="2132.6" width="366.2" height="133.6" rx="15.5"/>
<rect x="1822.5" y="2304.6" width="286.9" height="132.5" rx="15.5"/>
<rect x="1794.4" y="2484.7" width="343.1" height="131.6" rx="15.5"/>
<rect x="1770.8" y="2655.7" width="393.6" height="131.6" rx="15.5"/>
<rect x="2232.4" y="2295.1" width="365.5" height="132.9" rx="15.5"/>
<rect x="2232.4" y="2488" width="431.7" height="131.2" rx="15.5"/>
<rect x="2732.2" y="2091.1" width="335.8" height="133.1" rx="15.5"/>
<rect x="3122" y="2091.6" width="335.6" height="132.3" rx="15.5"/>
<rect x="3504.2" y="2091.6" width="315.3" height="132.3" rx="15.5"/>
<rect x="2721.4" y="2295.1" width="364.8" height="133.2" rx="15.5"/>
<rect x="3120.3" y="2295.9" width="364.9" height="131.5" rx="15.5"/>
<rect x="3510.6" y="2295.9" width="365.7" height="131.5" rx="15.5"/>
<rect x="2699.3" y="2486.9" width="365.3" height="133" rx="15.5"/>
<rect x="3103.3" y="2486.9" width="432.9" height="133" rx="15.5"/>
<rect x="363.5" y="2181.4" width="364.8" height="132.4" rx="15.5"/>
<rect x="777.4" y="2181.4" width="529.4" height="132.4" rx="15.5"/>
<rect x="398.4" y="2399.1" width="251.3" height="131.5" rx="15.5"/>
<rect x="695.9" y="2441.2" width="223" height="133.1" rx="15.5"/>
<rect x="964" y="2441.2" width="296.1" height="133.1" rx="15.5"/>
<rect x="1314.1" y="2441.2" width="404.4" height="133.1" rx="15.5"/>
</g>
<g fill="#FFFFFF" stroke="#FFFFFF" stroke-width="0.7" font-family="Liberation Sans" font-size="50" text-anchor="middle">
<text x="2160" y="491.9" textLength="286" lengthAdjust="spacingAndGlyphs">splash screen</text>
<text x="1767.9" y="919" textLength="196.2" lengthAdjust="spacingAndGlyphs">New user</text>
<text x="1768.3" y="1100.8" textLength="171.8" lengthAdjust="spacingAndGlyphs">Register</text>
<text x="2586.6" y="919.2" textLength="347.6" lengthAdjust="spacingAndGlyphs">Have an account</text>
<text x="2527.8" y="1107.2" textLength="267.6" lengthAdjust="spacingAndGlyphs">Login screen</text>
<text x="2859" y="1112.9" textLength="118" lengthAdjust="spacingAndGlyphs">Login</text>
<text x="3242.9" y="1112.9" textLength="414.6" lengthAdjust="spacingAndGlyphs">Forgotten password</text>
<text x="3242.8" y="1298.9" textLength="408" lengthAdjust="spacingAndGlyphs">Recovery password</text>
<text x="792.4" y="1419" textLength="303.6" lengthAdjust="spacingAndGlyphs">Phone number</text>
<text x="1211.7" y="1419" textLength="177" lengthAdjust="spacingAndGlyphs">Apple ID</text>
<text x="1625" y="1419.1" textLength="136.8" lengthAdjust="spacingAndGlyphs">E-mail</text>
<text x="2043.9" y="1419.1" textLength="121.8" lengthAdjust="spacingAndGlyphs">Gmail</text>
<text x="2044.3" y="1634.8" textLength="289.8" lengthAdjust="spacingAndGlyphs">Register done</text>
<text x="2100.5" y="1836" textLength="379.4" lengthAdjust="spacingAndGlyphs">What do you love?</text>
<text x="2100.9" y="2027" textLength="451.4" lengthAdjust="spacingAndGlyphs">Tap the artist you love</text>
<text x="2123.8" y="2216.8" textLength="277.6" lengthAdjust="spacingAndGlyphs">Home screen</text>
<text x="1965.3" y="2388.2" textLength="200.6" lengthAdjust="spacingAndGlyphs">My music</text>
<text x="1966.2" y="2567.9" textLength="260.4" lengthAdjust="spacingAndGlyphs">Now playing</text>
<text x="1967.5" y="2738.9" textLength="277.4" lengthAdjust="spacingAndGlyphs">Find new one</text>
<text x="2415.7" y="2379" textLength="177" lengthAdjust="spacingAndGlyphs">Ai Music</text>
<text x="2447" y="2571" textLength="302" lengthAdjust="spacingAndGlyphs">Calm harmony</text>
<text x="2899.7" y="2175" textLength="202.2" lengthAdjust="spacingAndGlyphs">My music</text>
<text x="3289.6" y="2175.2" textLength="259.2" lengthAdjust="spacingAndGlyphs">Now playing</text>
<text x="3660.2" y="2175.2" textLength="217.2" lengthAdjust="spacingAndGlyphs">Recent list</text>
<text x="2903.4" y="2379.1" textLength="263.2" lengthAdjust="spacingAndGlyphs">Downloaded</text>
<text x="3302.2" y="2379.1" textLength="166.4" lengthAdjust="spacingAndGlyphs">Favorite</text>
<text x="3692.7" y="2379.1" textLength="129.8" lengthAdjust="spacingAndGlyphs">Player</text>
<text x="2880.3" y="2570.8" textLength="253" lengthAdjust="spacingAndGlyphs">Mood Boost</text>
<text x="3320.7" y="2570.8" textLength="283.4" lengthAdjust="spacingAndGlyphs">Work balance</text>
<text x="546.1" y="2265" textLength="173" lengthAdjust="spacingAndGlyphs">Settings</text>
<text x="1043.2" y="2265" textLength="415.2" lengthAdjust="spacingAndGlyphs">Album Playist Cards</text>
<text x="522.9" y="2482.2" textLength="156.2" lengthAdjust="spacingAndGlyphs">Log out</text>
<text x="806.2" y="2525.2" textLength="146.4" lengthAdjust="spacingAndGlyphs">Recent</text>
<text x="1113.5" y="2525.2" textLength="181" lengthAdjust="spacingAndGlyphs">Trending</text>
<text x="1516.1" y="2525.2" textLength="333.8" lengthAdjust="spacingAndGlyphs">Play Resut song</text>
</g>
</svg>
</body></html>
